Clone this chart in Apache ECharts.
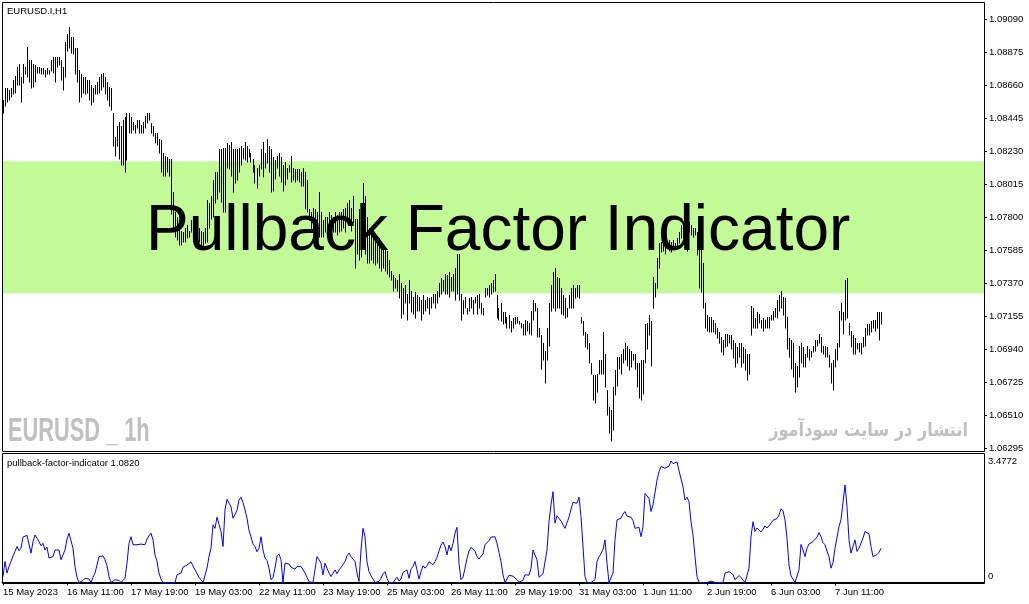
<!DOCTYPE html>
<html><head><meta charset="utf-8">
<script src="https://cdn.jsdelivr.net/npm/echarts@6/dist/echarts.min.js"></script>
<style>html,body{margin:0;padding:0;background:#fff}#c{width:1029px;height:604px}</style>
</head><body><div id="c"></div>
<script>
// ---- DATA ----
const highs = [
1.0856,1.0864,1.0864,1.0863,1.0864,1.0869,1.0872,1.0878,1.0880,1.0871,
1.0880,1.0878,1.0891,1.0882,1.0882,1.0880,1.0879,1.0878,1.0878,1.0877,
1.0877,1.0876,1.0877,1.0876,1.0882,1.0884,1.0884,1.0884,1.0884,1.0882,
1.0878,1.0894,1.0899,1.0904,1.0897,1.0897,1.0890,1.0890,1.0876,1.0873,
1.0871,1.0871,1.0869,1.0869,1.0866,1.0864,1.0866,1.0868,1.0871,1.0873,
1.0874,1.0871,1.0868,1.0865,1.0864,1.0848,1.0832,1.0839,1.0842,1.0839,
1.0843,1.0845,1.0848,1.0848,1.0845,1.0842,1.0840,1.0843,1.0843,1.0840,
1.0842,1.0846,1.0848,1.0848,1.0841,1.0839,1.0835,1.0835,1.0831,1.0830,
1.0822,1.0820,1.0819,1.0818,1.0818,1.0796,1.0783,1.0780,1.0778,1.0771,
1.0770,1.0773,1.0775,1.0771,1.0778,1.0776,1.0780,1.0775,1.0773,1.0771,
1.0770,1.0773,1.0791,1.0789,1.0794,1.0804,1.0809,1.0809,1.0824,1.0824,
1.0825,1.0825,1.0828,1.0827,1.0829,1.0824,1.0824,1.0824,1.0825,1.0826,
1.0825,1.0829,1.0826,1.0824,1.0822,1.0818,1.0814,1.0812,1.0814,1.0824,
1.0829,1.0822,1.0831,1.0826,1.0824,1.0819,1.0817,1.0820,1.0822,1.0819,
1.0814,1.0816,1.0812,1.0814,1.0820,1.0812,1.0811,1.0811,1.0811,1.0809,
1.0812,1.0809,1.0804,1.0785,1.0783,1.0786,1.0785,1.0783,1.0796,1.0783,
1.0778,1.0780,1.0780,1.0783,1.0781,1.0780,1.0783,1.0781,1.0783,1.0783,
1.0785,1.0786,1.0789,1.0791,1.0786,1.0794,1.0779,1.0779,1.0785,1.0789,
1.0802,1.0794,1.0780,1.0773,1.0770,1.0767,1.0765,1.0767,1.0766,1.0763,
1.0760,1.0760,1.0758,1.0752,1.0745,1.0742,1.0740,1.0739,1.0743,1.0737,
1.0734,1.0736,1.0730,1.0739,1.0732,1.0728,1.0731,1.0729,1.0728,1.0726,
1.0729,1.0726,1.0728,1.0727,1.0728,1.0730,1.0730,1.0732,1.0737,1.0740,
1.0739,1.0743,1.0742,1.0744,1.0741,1.0743,1.0747,1.0756,1.0756,1.0730,
1.0726,1.0728,1.0721,1.0727,1.0728,1.0726,1.0728,1.0729,1.0730,1.0724,
1.0721,1.0734,1.0734,1.0736,1.0737,1.0739,1.0743,1.0729,1.0721,1.0724,
1.0718,1.0718,1.0715,1.0716,1.0712,1.0714,1.0715,1.0715,1.0712,1.0711,
1.0710,1.0713,1.0712,1.0711,1.0719,1.0726,1.0724,1.0721,1.0708,1.0703,
1.0698,1.0693,1.0708,1.0724,1.0736,1.0744,1.0747,1.0741,1.0740,1.0734,
1.0729,1.0727,1.0721,1.0729,1.0734,1.0736,1.0734,1.0736,1.0736,1.0715,
1.0712,1.0705,1.0704,1.0698,1.0685,1.0677,1.0677,1.0678,1.0687,1.0687,
1.0705,1.0691,1.0667,1.0656,1.0654,1.0669,1.0680,1.0689,1.0689,1.0691,
1.0694,1.0698,1.0696,1.0694,1.0693,1.0691,1.0691,1.0685,1.0685,1.0687,
1.0687,1.0710,1.0711,1.0716,1.0712,1.0741,1.0737,1.0753,1.0763,1.0764,
1.0765,1.0764,1.0763,1.0765,1.0764,1.0765,1.0763,1.0766,1.0770,1.0775,
1.0775,1.0778,1.0778,1.0777,1.0775,1.0773,1.0773,1.0770,1.0765,1.0773,
1.0750,1.0724,1.0716,1.0715,1.0715,1.0713,1.0711,1.0708,1.0705,1.0702,
1.0700,1.0704,1.0704,1.0703,1.0703,1.0700,1.0698,1.0695,1.0698,1.0698,
1.0695,1.0694,1.0691,1.0691,1.0722,1.0721,1.0714,1.0718,1.0717,1.0713,
1.0714,1.0713,1.0715,1.0715,1.0716,1.0719,1.0721,1.0726,1.0729,1.0732,
1.0728,1.0727,1.0715,1.0701,1.0700,1.0698,1.0685,1.0683,1.0696,1.0698,
1.0695,1.0691,1.0696,1.0694,1.0693,1.0696,1.0700,1.0700,1.0704,1.0702,
1.0696,1.0696,1.0695,1.0690,1.0685,1.0687,1.0694,1.0698,1.0719,1.0724,
1.0718,1.0739,1.0740,1.0711,1.0706,1.0703,1.0701,1.0698,1.0698,1.0698,
1.0702,1.0708,1.0710,1.0710,1.0712,1.0713,1.0713,1.0718,1.0718,1.0718
];
const lows = [
1.0848,1.0852,1.0855,1.0856,1.0858,1.0860,1.0861,1.0866,1.0866,1.0855,
1.0867,1.0873,1.0871,1.0868,1.0864,1.0865,1.0868,1.0874,1.0874,1.0873,
1.0873,1.0871,1.0873,1.0873,1.0875,1.0874,1.0868,1.0878,1.0879,1.0869,
1.0863,1.0871,1.0888,1.0890,1.0887,1.0886,1.0873,1.0868,1.0855,1.0858,
1.0861,1.0860,1.0861,1.0856,1.0853,1.0855,1.0860,1.0860,1.0861,1.0863,
1.0865,1.0860,1.0856,1.0852,1.0850,1.0826,1.0820,1.0826,1.0818,1.0814,
1.0814,1.0809,1.0817,1.0835,1.0835,1.0837,1.0835,1.0838,1.0835,1.0835,
1.0835,1.0838,1.0841,1.0843,1.0835,1.0833,1.0828,1.0827,1.0822,1.0809,
1.0807,1.0807,1.0809,1.0807,1.0782,1.0773,1.0767,1.0765,1.0762,1.0762,
1.0764,1.0764,1.0766,1.0767,1.0770,1.0766,1.0767,1.0767,1.0764,1.0760,
1.0760,1.0763,1.0764,1.0773,1.0779,1.0780,1.0789,1.0792,1.0796,1.0790,
1.0783,1.0783,1.0812,1.0811,1.0807,1.0796,1.0802,1.0804,1.0809,1.0814,
1.0818,1.0817,1.0816,1.0819,1.0816,1.0809,1.0802,1.0799,1.0807,1.0811,
1.0806,1.0812,1.0815,1.0809,1.0796,1.0797,1.0805,1.0812,1.0807,1.0803,
1.0797,1.0801,1.0805,1.0809,1.0803,1.0804,1.0803,1.0804,1.0803,1.0800,
1.0800,1.0785,1.0783,1.0778,1.0770,1.0771,1.0767,1.0770,1.0767,1.0767,
1.0767,1.0770,1.0770,1.0767,1.0770,1.0770,1.0770,1.0768,1.0770,1.0771,
1.0773,1.0770,1.0778,1.0779,1.0771,1.0776,1.0747,1.0756,1.0752,1.0754,
1.0760,1.0756,1.0750,1.0750,1.0752,1.0750,1.0749,1.0750,1.0747,1.0745,
1.0747,1.0745,1.0743,1.0741,1.0739,1.0732,1.0734,1.0732,1.0727,1.0714,
1.0717,1.0724,1.0713,1.0724,1.0718,1.0717,1.0714,1.0719,1.0719,1.0713,
1.0717,1.0719,1.0721,1.0717,1.0721,1.0724,1.0721,1.0724,1.0728,1.0730,
1.0732,1.0730,1.0730,1.0728,1.0732,1.0732,1.0726,1.0730,1.0726,1.0713,
1.0717,1.0721,1.0717,1.0719,1.0721,1.0717,1.0724,1.0717,1.0721,1.0717,
1.0716,1.0728,1.0729,1.0728,1.0730,1.0731,1.0732,1.0714,1.0713,1.0712,
1.0710,1.0711,1.0708,1.0708,1.0705,1.0708,1.0710,1.0711,1.0710,1.0708,
1.0703,1.0703,1.0706,1.0704,1.0703,1.0713,1.0719,1.0702,1.0702,1.0681,
1.0687,1.0672,1.0687,1.0696,1.0719,1.0721,1.0719,1.0721,1.0721,1.0717,
1.0716,1.0714,1.0715,1.0721,1.0721,1.0721,1.0727,1.0728,1.0727,1.0711,
1.0703,1.0695,1.0694,1.0685,1.0678,1.0661,1.0659,1.0666,1.0678,1.0678,
1.0678,1.0669,1.0651,1.0639,1.0634,1.0641,1.0664,1.0670,1.0681,1.0678,
1.0685,1.0687,1.0683,1.0680,1.0682,1.0687,1.0681,1.0669,1.0662,1.0661,
1.0665,1.0685,1.0694,1.0703,1.0683,1.0721,1.0728,1.0734,1.0747,1.0757,
1.0758,1.0756,1.0760,1.0758,1.0757,1.0760,1.0760,1.0760,1.0763,1.0766,
1.0766,1.0767,1.0758,1.0770,1.0768,1.0767,1.0768,1.0755,1.0734,1.0731,
1.0721,1.0708,1.0706,1.0705,1.0705,1.0705,1.0704,1.0701,1.0698,1.0692,
1.0690,1.0695,1.0696,1.0698,1.0694,1.0688,1.0682,1.0685,1.0689,1.0682,
1.0685,1.0680,1.0674,1.0678,1.0703,1.0708,1.0708,1.0708,1.0711,1.0708,
1.0706,1.0708,1.0708,1.0708,1.0713,1.0713,1.0715,1.0714,1.0719,1.0721,
1.0716,1.0708,1.0694,1.0689,1.0681,1.0676,1.0666,1.0669,1.0676,1.0685,
1.0682,1.0682,1.0689,1.0687,1.0689,1.0692,1.0693,1.0696,1.0698,1.0692,
1.0691,1.0689,1.0689,1.0682,1.0672,1.0667,1.0682,1.0687,1.0695,1.0713,
1.0704,1.0713,1.0714,1.0703,1.0695,1.0691,1.0691,1.0694,1.0692,1.0691,
1.0695,1.0696,1.0703,1.0703,1.0705,1.0708,1.0706,1.0708,1.0700,1.0710
];
const indicator = [
0.17,0.60,0.27,0.46,0.60,0.76,0.89,1.03,0.91,0.98,
1.30,1.34,1.35,1.37,0.84,1.17,1.36,1.27,1.17,1.05,
1.12,0.93,1.01,0.70,0.70,0.74,0.93,0.96,0.93,0.65,
0.60,0.93,1.24,1.41,1.36,0.98,0.46,0.15,0,0,
0.06,0.12,0.17,0.10,0,0.15,0.27,0.50,0.74,0.79,
0.76,0.65,0.48,0.17,0,0.03,0.08,0.04,0.06,0,
0,0.12,0.55,1.12,1.31,1.08,1.12,1.08,1.05,1.10,
1.08,1.08,1.24,1.34,1.41,1.22,0.79,0.60,0.27,0.10,
0,0.03,0,0,0,0,0,0.22,0.17,0.27,
0.44,0.41,0.50,0.50,0.59,0.55,0.36,0.36,0.15,0.17,
0,0,0.41,0.74,0.98,1.65,1.55,1.87,1.91,1.46,
1.03,2.08,2.38,2.38,2.17,1.84,1.84,2.06,2.36,2.44,
2.29,2.08,1.84,1.49,1.31,1.10,1.03,0.88,0.98,1.31,
0.93,0.70,0.63,0.41,0.08,0.15,0.41,0.76,0.82,0.65,
0,0.55,0.59,0.53,0.44,0.44,0.38,0.46,0.44,0.46,
0.50,0.27,0.15,0.02,0,0,0,0.74,0.65,0.55,
0.22,0.55,0.41,0.27,0.17,0.27,0.36,0.25,0.36,0.43,
0.43,0.60,0.76,0.84,0.74,0.76,0.60,0.27,0.03,0.93,
1.55,1.31,0.60,0.31,0.19,0.10,0,0,0.03,0.12,
0.25,0.31,0.12,0,0,0,0,0.15,0.04,0.10,
0.29,0.27,0.36,0.12,0.39,0.46,0.60,0.36,0.10,0.31,
0.48,0.41,0.48,0.59,0.59,0.51,0.60,0.72,0.90,1.07,
1.16,1.03,0.79,1.07,0.91,1.12,1.41,1.58,0.55,0.08,
0.15,0.41,0.69,0.90,1.01,1.01,0.89,0.74,0.67,0.72,
0.82,1.08,1.11,1.20,1.30,1.33,1.31,1.12,0.86,0.60,
0.22,0,0.10,0.21,0.23,0.18,0.15,0.08,0.01,0,
0.06,0.22,0.17,0.21,0.41,0.93,0.98,0.65,0.15,0.10,
0.25,0.27,0.93,1.74,2.22,2.60,1.70,1.91,1.89,1.76,
1.65,1.55,1.71,1.87,2.10,2.29,2.27,2.27,2.44,1.89,
1.03,0.17,0,0,0,0,0.08,0.60,0.74,0.82,
0.95,1.22,0.55,0,0,0.27,1.22,1.79,1.79,1.84,
1.96,2.03,1.90,1.90,1.87,1.77,1.55,1.55,1.58,1.31,
1.60,2.55,2.55,2.41,2.03,2.22,2.17,2.93,3.17,3.32,
3.27,3.27,3.27,3.33,3.4772,3.40,3.36,3.45,3.20,3.22,
2.74,2.36,2.44,2.31,1.74,1.36,0.74,0.17,0,0,
0,0,0,0,0.04,0,0,0.02,0,0.02,
0,0.27,0.31,0.31,0.36,0.23,0.08,0.06,0.20,0.14,
0.09,0,0,0.41,1.31,1.74,1.46,1.56,1.56,1.45,
1.52,1.62,1.56,1.62,1.70,1.78,1.74,1.83,1.93,2.11,
2.05,1.79,1.27,0.50,0.19,0.14,0,0.02,0.36,1.09,
0.93,0.74,0.98,1.10,1.14,1.17,1.22,1.30,1.43,1.31,
1.14,1.08,0.90,0.74,0.41,0.57,0.98,1.01,1.60,1.80,
1.83,2.79,2.17,1.22,0.84,1.03,1.22,0.89,0.98,1.01,
1.27,1.46,1.51,1.39,1.03,0.74,0.79,0.80,0.86,0.98
];
const timeLabels = ['15 May 2023','16 May 11:00','17 May 19:00','19 May 03:00','22 May 11:00','23 May 19:00','25 May 03:00','26 May 11:00','29 May 19:00','31 May 03:00','1 Jun 11:00','2 Jun 19:00','6 Jun 03:00','7 Jun 11:00'];
const priceTicks = [1.06295,1.06510,1.06725,1.06940,1.07155,1.07370,1.07585,1.07800,1.08015,1.08230,1.08445,1.08660,1.08875,1.09090];
const indicatorTicks = [0, 3.4772];
const zoneRange = [1.07304, 1.08164];

// ---- layout ----
const SLOTS = 491;       // bar slots across the chart width (incl. empty future space)
const LABEL_STEP = 32;   // bars between time labels
const categories = Array.from({length: SLOTS}, (_, i) => String(i));
const bars = highs.map((h, i) => [i, lows[i], h]);
const FONT = 'Liberation Sans, Arial, sans-serif';
const labelEvery = (idx) => idx % LABEL_STEP === 0 && idx / LABEL_STEP < timeLabels.length;

const chart = echarts.init(document.getElementById('c'), null, {renderer: 'canvas'});
chart.setOption({
  animation: false,
  backgroundColor: '#ffffff',
  textStyle: {fontFamily: FONT},
  grid: [
    {left: 2, right: 45, top: 2, height: 449},
    {left: 2, right: 45, top: 453, height: 130.5}
  ],
  xAxis: [
    {type: 'category', gridIndex: 0, data: categories, boundaryGap: true, show: false},
    {type: 'category', gridIndex: 1, data: categories, boundaryGap: true,
     axisLine: {show: true, lineStyle: {color: '#000', width: 1}},
     axisTick: {show: true, alignWithLabel: true, length: 3, interval: labelEvery, lineStyle: {color: '#000'}},
     axisLabel: {interval: labelEvery, formatter: (v, idx) => timeLabels[idx / LABEL_STEP] || '',
       align: 'left', margin: 4, color: '#000', fontSize: 9.5, fontFamily: FONT},
     splitLine: {show: false}}
  ],
  yAxis: [
    {type: 'value', gridIndex: 0, position: 'right', min: 1.062755, max: 1.092008,
     axisLine: {show: false}, splitLine: {show: false},
     axisTick: {show: true, length: 3, customValues: priceTicks, lineStyle: {color: '#000'}},
     axisLabel: {customValues: priceTicks, formatter: v => v.toFixed(5), margin: 5,
       color: '#000', fontSize: 9.5, fontFamily: FONT}},
    {type: 'value', gridIndex: 1, position: 'right', min: -0.028619, max: 3.70615,
     axisLine: {show: false}, splitLine: {show: false}, axisTick: {show: false},
     axisLabel: {customValues: indicatorTicks,
       formatter: v => v === 0 ? '{z|0}' : String(v), margin: 4,
       color: '#000', fontSize: 9.5, fontFamily: FONT,
       rich: {z: {padding: [0, 0, 13, 0], color: '#000', fontSize: 9.5, fontFamily: FONT}}}}
  ],
  series: [
    {type: 'line', xAxisIndex: 0, yAxisIndex: 0, z: 1, silent: true,
     data: highs.map(() => null), showSymbol: false,
     markArea: {silent: true, itemStyle: {color: '#C2FA98'},
       data: [[{yAxis: zoneRange[1]}, {yAxis: zoneRange[0]}]]}},
    {type: 'custom', xAxisIndex: 0, yAxisIndex: 0, z: 3, silent: true,
     data: bars, encode: {x: 0, y: [1, 2]},
     renderItem: (params, api) => {
       const lo = api.coord([api.value(0), api.value(1)]);
       const hi = api.coord([api.value(0), api.value(2)]);
       const x = Math.floor(lo[0]) + 0.5;
       return {type: 'line', shape: {x1: x, y1: Math.round(lo[1]) + 0.5, x2: x, y2: Math.round(hi[1])},
         style: {stroke: '#000', lineWidth: 1}};
     }},
    {type: 'line', xAxisIndex: 1, yAxisIndex: 1, z: 3, silent: true,
     data: indicator, showSymbol: false, symbol: 'none',
     lineStyle: {color: '#0000FF', width: 1}}
  ],
  graphic: [
    {type: 'rect', z: 50, silent: true, shape: {x: 2.5, y: 2.5, width: 982, height: 449},
     style: {fill: 'none', stroke: '#000', lineWidth: 1}},
    {type: 'rect', z: 50, silent: true, shape: {x: 2.5, y: 453.5, width: 982, height: 130},
     style: {fill: 'none', stroke: '#000', lineWidth: 1}},
    {type: 'text', z: 60, silent: true, x: 7, y: 11.5,
     style: {text: 'EURUSD.I,H1', font: '9.5px ' + FONT, fill: '#000', verticalAlign: 'middle'}},
    {type: 'text', z: 60, silent: true, x: 7, y: 463.5,
     style: {text: 'pullback-factor-indicator 1.0820', font: '9.5px ' + FONT, fill: '#000', verticalAlign: 'middle'}},
    {type: 'text', z: 60, silent: true, x: 146, y: 232,
     style: {text: 'Pullback Factor Indicator', font: '64px ' + FONT, fill: '#000', verticalAlign: 'middle'}},
    {type: 'text', z: 60, silent: true, x: 8, y: 431.6, scaleX: 0.66,
     style: {text: 'EURUSD _ 1h', font: 'bold 33px ' + FONT, fill: '#C0C0C0', verticalAlign: 'middle'}},
    {type: 'text', z: 60, silent: true, x: 968, y: 431, scaleX: 0.85,
     style: {text: 'انتشار در سایت سودآموز', font: 'bold 19px DejaVu Sans, sans-serif', fill: '#C0C0C0',
       align: 'right', verticalAlign: 'middle'}}
  ]
});
</script>
</body></html>
